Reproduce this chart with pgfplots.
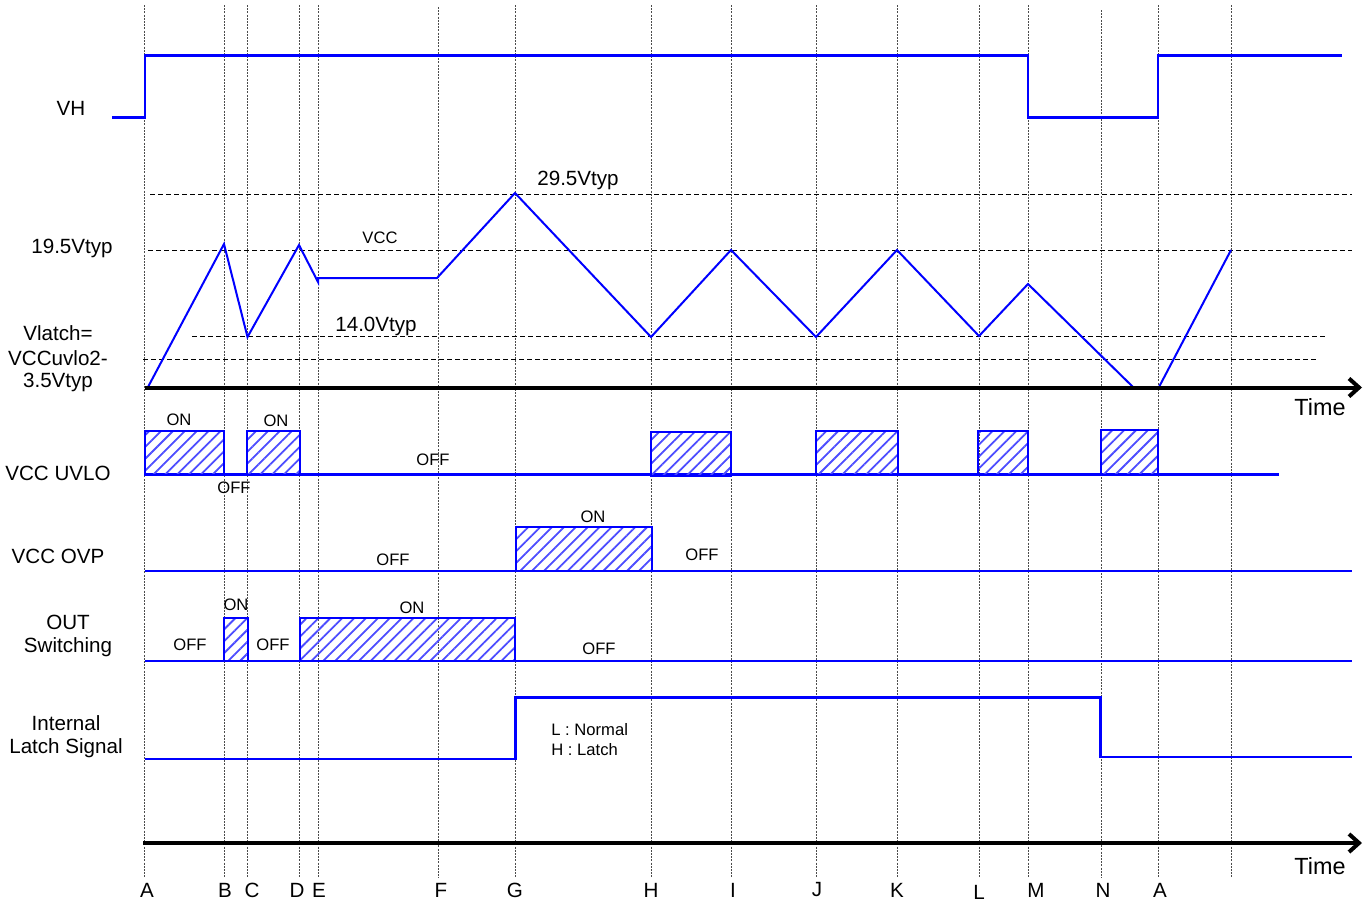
\documentclass[border=0pt]{standalone}
\usepackage{fontspec}
\setmainfont{Liberation Sans}
\usepackage{pgfplots}
\pgfplotsset{compat=1.18}
\usetikzlibrary{patterns.meta,arrows.meta}
\newcommand\lbl{\fontsize{10.3}{12}\selectfont}
\newcommand\sml{\fontsize{8.3}{10}\selectfont}
\newcommand\tim{\fontsize{11.7}{14}\selectfont}
\tikzset{
  vl/.style={black!70, line width=0.5pt, dash pattern=on 1pt off 0.6pt},
  hd/.style={black, line width=0.5pt, dash pattern=on 2.5pt off 1.5pt},
  sig/.style={blue, line width=1.2pt},
  hbox/.style={draw=blue, line width=1pt, pattern={Lines[angle=45,distance=4.2pt,line width=0.9pt]}, pattern color=blue!70},
  ax/.style={black, line width=2pt},
  txt/.style={inner sep=0pt, anchor=center}
}
\begin{document}
\begin{tikzpicture}
\begin{axis}[hide axis, scale only axis, width=686pt, height=450.5pt,
  xmin=0, xmax=1372, ymin=0, ymax=901, y dir=reverse, clip=false, no markers]
% vertical guide lines
\addplot[vl] coordinates {(144.5,5)(144.5,878)};
\addplot[vl] coordinates {(224.5,5)(224.5,878)};
\addplot[vl] coordinates {(247.5,5)(247.5,878)};
\addplot[vl] coordinates {(299,5)(299,878)};
\addplot[vl] coordinates {(318,5)(318,878)};
\addplot[vl] coordinates {(438,7)(438,878)};
\addplot[vl] coordinates {(515.5,5)(515.5,878)};
\addplot[vl] coordinates {(651,5)(651,878)};
\addplot[vl] coordinates {(731.5,5)(731.5,878)};
\addplot[vl] coordinates {(816,5)(816,878)};
\addplot[vl] coordinates {(897,5)(897,878)};
\addplot[vl] coordinates {(979,5)(979,878)};
\addplot[vl] coordinates {(1028,5)(1028,878)};
\addplot[vl] coordinates {(1101,10)(1101,878)};
\addplot[vl] coordinates {(1158,5)(1158,878)};
\addplot[vl] coordinates {(1231,5)(1231,878)};
% horizontal dashed levels
\addplot[hd] coordinates {(150,194.3)(1352,194.3)};
\addplot[hd] coordinates {(148,250)(1352,250)};
\addplot[hd] coordinates {(192,336.7)(1328,336.7)};
\addplot[hd] coordinates {(143,359.3)(1318,359.3)};
% VH
\addplot[sig, line width=1.4pt] coordinates {(112,117.5)(145,117.5)(145,55.5)(1028,55.5)(1028,117.5)(1158,117.5)(1158,55.5)(1342,55.5)};
% VCC
\addplot[sig, line width=1pt] coordinates {(148,387)(224,244)(247.5,337)(299,245)(318,282)(318,278)(437,278)(515,193)(651,337)(731,250)(816,337)(897,250)(979,336)(1028,284)(1133,387)};
\addplot[sig, line width=1pt] coordinates {(1159,387)(1231,250)};
% Time axis 1
\addplot[ax, -{Straight Barb[length=5pt,width=9pt]}] coordinates {(145,387.5)(1362,387.5)};
% UVLO
\addplot[sig] coordinates {(145,474.5)(1279,474.5)};
\addplot[hbox] coordinates {(144.5,431)(224,431)(224,474.5)(144.5,474.5)} -- cycle;
\addplot[hbox] coordinates {(247,431)(300,431)(300,474.5)(247,474.5)} -- cycle;
\addplot[hbox] coordinates {(651,432)(731,432)(731,476)(651,476)} -- cycle;
\addplot[hbox] coordinates {(815.5,431)(898,431)(898,474.5)(815.5,474.5)} -- cycle;
\addplot[hbox] coordinates {(978,431)(1028,431)(1028,474.5)(978,474.5)} -- cycle;
\addplot[hbox] coordinates {(1101,430)(1158,430)(1158,474.5)(1101,474.5)} -- cycle;
% OVP
\addplot[sig] coordinates {(145,571)(1352,571)};
\addplot[hbox] coordinates {(516,527)(651.5,527)(651.5,571)(516,571)} -- cycle;
% OUT
\addplot[sig] coordinates {(145,661)(1352,661)};
\addplot[hbox] coordinates {(223.5,618)(247.5,618)(247.5,661)(223.5,661)} -- cycle;
\addplot[hbox] coordinates {(300,618)(515,618)(515,661)(300,661)} -- cycle;
% Latch
\addplot[sig] coordinates {(145,759)(515.5,759)(515.5,697.5)(1100.5,697.5)(1100.5,757)(1352,757)};
% Time axis 2
\addplot[ax, -{Straight Barb[length=5pt,width=9pt]}] coordinates {(143,843)(1362,843)};
% Texts
\node[txt,font=\lbl] at (71,108) {VH};
\node[txt,font=\lbl] at (578,180) {29.5Vtyp};
\node[txt,font=\lbl] at (72,248) {19.5Vtyp};
\node[txt,font=\sml] at (380,238) {VCC};
\node[txt,font=\lbl] at (376,326) {14.0Vtyp};
\node[txt,font=\lbl] at (58,333) {Vlatch=};
\node[txt,font=\lbl] at (58,358) {VCCuvlo2-};
\node[txt,font=\lbl] at (58,382) {3.5Vtyp};
\node[txt,font=\tim] at (1320,407) {Time};
\node[txt,font=\sml] at (179,420) {ON};
\node[txt,font=\sml] at (276,421) {ON};
\node[txt,font=\sml] at (433,460) {OFF};
\node[txt,font=\sml] at (234,488) {OFF};
\node[txt,font=\lbl] at (58,473) {VCC UVLO};
\node[txt,font=\sml] at (593,517) {ON};
\node[txt,font=\sml] at (702,555) {OFF};
\node[txt,font=\sml] at (393,560) {OFF};
\node[txt,font=\lbl] at (58,556) {VCC OVP};
\node[txt,font=\sml] at (236,605) {ON};
\node[txt,font=\sml] at (412,608) {ON};
\node[txt,font=\sml] at (190,645) {OFF};
\node[txt,font=\sml] at (273,645) {OFF};
\node[txt,font=\sml] at (599,649) {OFF};
\node[txt,font=\lbl] at (68,622) {OUT};
\node[txt,font=\lbl] at (68,647) {Switching};
\node[txt,font=\lbl] at (66,723) {Internal};
\node[txt,font=\lbl] at (66,748) {Latch Signal};
\node[inner sep=0pt,anchor=west,font=\sml] at (551,730) {L : Normal};
\node[inner sep=0pt,anchor=west,font=\sml] at (551,750) {H : Latch};
\node[txt,font=\tim] at (1320,866) {Time};
\node[txt,font=\lbl] at (147,890) {A};
\node[txt,font=\lbl] at (225,890) {B};
\node[txt,font=\lbl] at (252,890) {C};
\node[txt,font=\lbl] at (297,890) {D};
\node[txt,font=\lbl] at (319,890) {E};
\node[txt,font=\lbl] at (441,890) {F};
\node[txt,font=\lbl] at (515,890) {G};
\node[txt,font=\lbl] at (651,890) {H};
\node[txt,font=\lbl] at (733,890) {I};
\node[txt,font=\lbl] at (817,890) {J};
\node[txt,font=\lbl] at (897,890) {K};
\node[txt,font=\lbl] at (979,892) {L};
\node[txt,font=\lbl] at (1036,890) {M};
\node[txt,font=\lbl] at (1103,890) {N};
\node[txt,font=\lbl] at (1160,890) {A};
\end{axis}
\pgfresetboundingbox
\path (current axis.south west) rectangle (current axis.north east);
\end{tikzpicture}
\end{document}
